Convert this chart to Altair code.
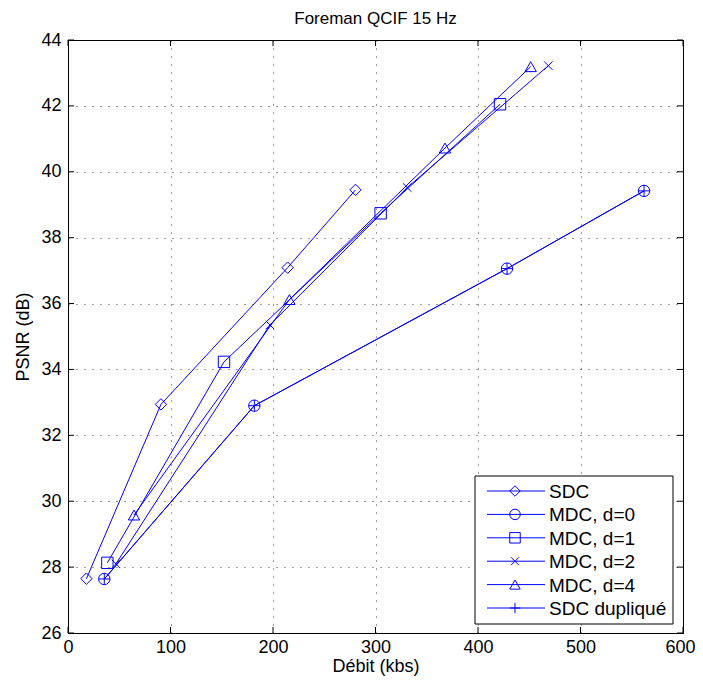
import altair as alt
import pandas as pd

# ---- data ----
series_names = ["SDC", "MDC, d=0", "MDC, d=1", "MDC, d=2", "MDC, d=4", "SDC dupliqué"]

sdc_x = [18.0, 90.7, 214.3, 280.5]
sdc_y = [27.65, 32.94, 37.09, 39.45]

mdc0_x = [35.4, 181.8, 428.3, 562.0]
mdc0_y = [27.64, 32.90, 37.06, 39.42]

mdc1_x = [38.4, 152.2, 305.0, 421.5]
mdc1_y = [28.13, 34.23, 38.74, 42.05]

mdc2_x = [46.8, 197.0, 331.0, 468.6]
mdc2_y = [28.10, 35.35, 39.52, 43.22]

mdc4_x = [64.4, 216.0, 367.8, 451.4]
mdc4_y = [29.58, 36.12, 40.72, 43.19]

dup_x = [35.4, 181.8, 428.3, 562.0]
dup_y = [27.64, 32.90, 37.06, 39.42]

x_ticks = [0, 100, 200, 300, 400, 500, 600]
y_ticks = [26, 28, 30, 32, 34, 36, 38, 40, 42, 44]
title_text = "Foreman QCIF 15 Hz"

# ---- styles ----
BLUE = "#0000ff"
FONT = "Liberation Sans"
shapes = [
    "diamond",
    "circle",
    "square",
    "M-0.75,-0.75L0.75,0.75M-0.75,0.75L0.75,-0.75",
    "triangle-up",
    "M-1,0L1,0M0,-1L0,1",
]
W, H = 615, 593

xs = [sdc_x, mdc0_x, mdc1_x, mdc2_x, mdc4_x, dup_x]
ys = [sdc_y, mdc0_y, mdc1_y, mdc2_y, mdc4_y, dup_y]
rows = []
for name, xx, yy in zip(series_names, xs, ys):
    for i, (a, b) in enumerate(zip(xx, yy)):
        rows.append({"series": name, "rate": a, "psnr": b, "idx": i})
df = pd.DataFrame(rows)

xscale = alt.Scale(domain=[0, 600], nice=False, zero=False)
yscale = alt.Scale(domain=[26, 44], nice=False, zero=False)

last_x = x_ticks[-1]
xaxis = alt.Axis(values=x_ticks, title="Débit (kbs)", grid=True, gridDash=[1, 7],
                 gridColor="#000", gridOpacity=0.75, ticks=False, tickSize=0,
                 domainColor="#000", labelFont=FONT, labelFontSize=18, labelColor="#000",
                 labelPadding=5, titleFont=FONT, titleFontSize=18, titleFontWeight="normal",
                 titleColor="#000", titlePadding=1, labelFlush=False,
                 labelAlign={"condition": {"test": f"datum.value == {last_x}", "value": "right"},
                             "value": "center"},
                 labelOffset={"condition": {"test": f"datum.value == {last_x}", "value": 12},
                              "value": 0})
yaxis = alt.Axis(values=y_ticks, title="PSNR (dB)", grid=True, gridDash=[1, 7],
                 gridColor="#000", gridOpacity=0.75, ticks=False, tickSize=0,
                 domainColor="#000", labelFont=FONT, labelFontSize=18, labelColor="#000",
                 labelPadding=7, titleFont=FONT, titleFontSize=18, titleFontWeight="normal",
                 titleColor="#000", titlePadding=8, labelFlush=False)

base = alt.Chart(df)

lines = base.mark_line(color=BLUE, strokeWidth=1).encode(
    x=alt.X("rate:Q", scale=xscale, axis=xaxis),
    y=alt.Y("psnr:Q", scale=yscale, axis=yaxis),
    detail="series:N",
    order="idx:Q",
)

points = base.mark_point(filled=False, color=BLUE, strokeWidth=1, size=130, opacity=1).encode(
    x=alt.X("rate:Q", scale=xscale),
    y=alt.Y("psnr:Q", scale=yscale),
    shape=alt.Shape("series:N", scale=alt.Scale(domain=series_names, range=shapes), legend=None),
)

# inside ticks (MATLAB style, on all four sides)
xt = pd.DataFrame({"t": x_ticks})
yt = pd.DataFrame({"t": y_ticks})
TL = 6
xt_bot = alt.Chart(xt).mark_rule(color="#000", strokeWidth=1).encode(
    x=alt.X("t:Q", scale=xscale), y=alt.value(H), y2=alt.value(H - TL))
xt_top = alt.Chart(xt).mark_rule(color="#000", strokeWidth=1).encode(
    x=alt.X("t:Q", scale=xscale), y=alt.value(0), y2=alt.value(TL))
yt_left = alt.Chart(yt).mark_rule(color="#000", strokeWidth=1).encode(
    y=alt.Y("t:Q", scale=yscale), x=alt.value(0), x2=alt.value(TL))
yt_right = alt.Chart(yt).mark_rule(color="#000", strokeWidth=1).encode(
    y=alt.Y("t:Q", scale=yscale), x=alt.value(W), x2=alt.value(W - TL))

# title as text above the plot
title_layer = alt.Chart(pd.DataFrame({"label": [title_text]})).mark_text(
    align="center", baseline="alphabetic", font=FONT, fontSize=17, color="#000"
).encode(x=alt.value(W / 2), y=alt.value(-16), text="label:N")

# ---- manual MATLAB-style legend ----
LX0, LX1, LY0, LY1 = 407, 605, 436, 584
ROW0, ROWSTEP = 451, 23.4
one = pd.DataFrame({"k": [0]})
legend_layers = [
    alt.Chart(one).mark_rect(fill="white", stroke="#000", strokeWidth=1).encode(
        x=alt.value(LX0), x2=alt.value(LX1), y=alt.value(LY0), y2=alt.value(LY1))
]
for i, (name, shp) in enumerate(zip(series_names, shapes)):
    ry = ROW0 + i * ROWSTEP
    d = pd.DataFrame({"label": [name]})
    legend_layers.append(
        alt.Chart(d).mark_rule(color=BLUE, strokeWidth=1).encode(
            x=alt.value(419), x2=alt.value(477), y=alt.value(ry)))
    legend_layers.append(
        alt.Chart(d).mark_point(filled=False, color=BLUE, strokeWidth=1, size=110,
                                shape=shp, opacity=1).encode(
            x=alt.value(447), y=alt.value(ry)))
    legend_layers.append(
        alt.Chart(d).mark_text(align="left", baseline="middle", font=FONT, fontSize=19,
                               color="#000", dy=1).encode(
            x=alt.value(481), y=alt.value(ry), text="label:N"))

chart = alt.layer(
    lines, points, xt_bot, xt_top, yt_left, yt_right, title_layer, *legend_layers
).properties(
    width=W,
    height=H,
    padding={"left": 60, "top": 32, "right": 12, "bottom": 44},
    autosize="none",
).configure_view(
    stroke="#000", strokeWidth=1
)

chart.save("out.html", embed_options={"renderer": "svg", "actions": False})
